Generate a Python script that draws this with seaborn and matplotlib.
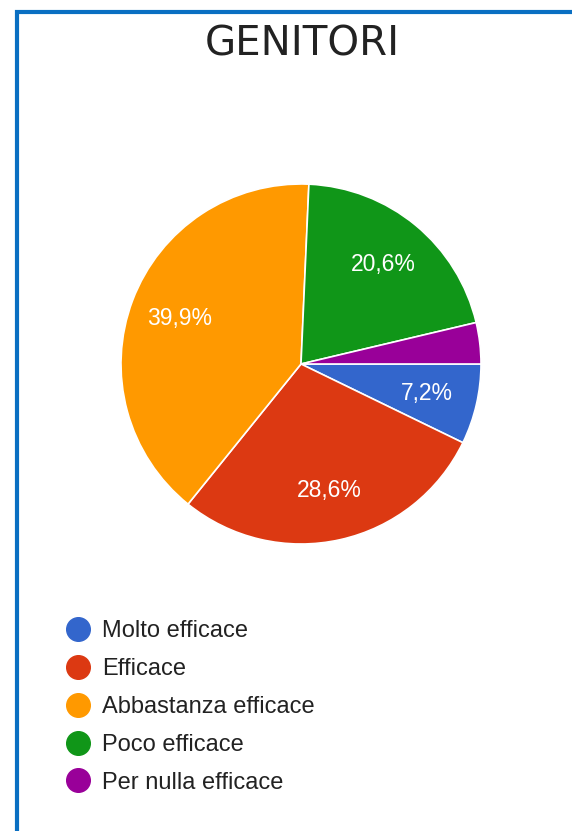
import numpy as np
import matplotlib
matplotlib.use("Agg")
from matplotlib import pyplot as plt
from matplotlib.lines import Line2D
from matplotlib.patches import Rectangle
import seaborn as sns

# data
categories = ["Molto efficace", "Efficace", "Abbastanza efficace",
              "Poco efficace", "Per nulla efficace"]
percent = [7.2, 28.6, 39.9, 20.6, 3.7]
colors = ["#3366CC", "#DC3912", "#FF9900", "#109618", "#990099"]
title = "GENITORI"

sns.set_theme(style="white")
plt.rcParams['font.family'] = ['Liberation Sans', 'DejaVu Sans']
palette = sns.color_palette(colors)

W, H = 572, 831
fig = plt.figure(figsize=(W / 100, H / 100), dpi=100)
fig.patch.set_facecolor("white")

# pie axes: centre (301, 364) px, radius 180 px
cx, cy, r = 301, 364, 180
ax = fig.add_axes([(cx - r) / W, (H - cy - r) / H, 2 * r / W, 2 * r / H])

def fmt_pct(p):
    # small slices get no label
    if p < 5:
        return ""
    return ("%.1f%%" % p).replace(".", ",")

wedges, texts, autotexts = ax.pie(percent, colors=palette, startangle=0,
                                  counterclock=False, autopct=fmt_pct,
                                  pctdistance=0.72,
                                  wedgeprops={'edgecolor': 'white', 'linewidth': 1.2})
for t in autotexts:
    t.set_color("white")
    t.set_fontsize(16.5)
ax.set_xlim(-1, 1)
ax.set_ylim(-1, 1)
ax.set_aspect("equal")
ax.axis("off")

# title
fig.text(302 / W, 1 - 45 / H, title, ha="center", va="center",
         fontsize=29, color="#222222", family=['DejaVu Sans'])

# legend
handles = [Line2D([0], [0], marker='o', linestyle='', markersize=17,
                  markerfacecolor=c, markeredgecolor=c) for c in palette]
fig.legend(handles, categories, loc="upper left",
           bbox_to_anchor=(57 / W, 1 - 611 / H), frameon=False,
           fontsize=17, handlelength=1.0, handletextpad=0.52,
           labelspacing=0.67, borderaxespad=0, labelcolor="#222222")

# blue frame
fig.patches.append(Rectangle((17 / W, -0.1), 1.2, 1.1 - 12 / H,
                             transform=fig.transFigure, fill=False,
                             edgecolor="#0A6FC2", linewidth=3))

plt.savefig("out.png", dpi=100)
